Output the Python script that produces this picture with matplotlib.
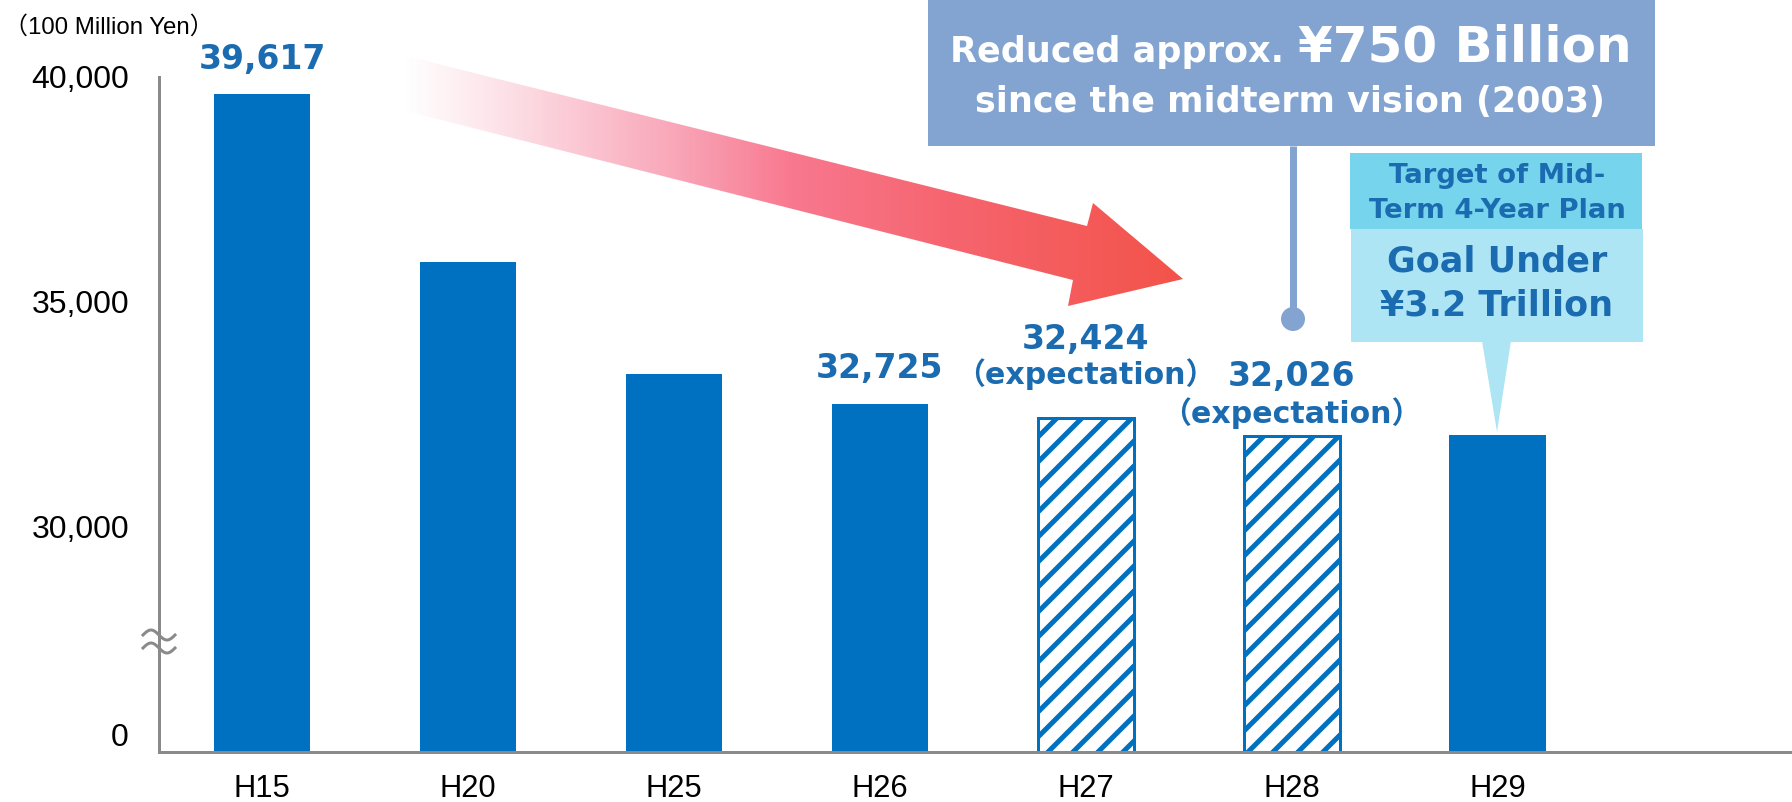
import numpy as np
import matplotlib.pyplot as plt
from matplotlib.patches import Rectangle, Polygon, Circle
from matplotlib.colors import LinearSegmentedColormap

W, H, DPI = 1792, 802, 150


def pt(px):
    # pixel size -> points at this dpi
    return px * 72 / DPI


# data (100 million yen)
years = ['H15', 'H20', 'H25', 'H26', 'H27', 'H28', 'H29']
budget = [39617, 35880, 33410, 32725, 32424, 32026, 32040]
status = ['actual', 'actual', 'actual', 'actual', 'expected', 'expected', 'target']
y_ticks = [25000, 30000, 35000, 40000]
y_ticklabels = ['', '30,000', '35,000', '40,000']

# where the value labels sit above the bar top (px)
num_offset = {'H15': 25, 'H26': 26, 'H27': 69, 'H28': 50}
exp_offset = {'H27': 34, 'H28': 13}

BLUE = '#0070C0'
LBL = '#1B6BB0'
AXIS = '#8A8A8A'
BOLD_FONT = ['DejaVu Sans', 'Noto Sans CJK JP']

plt.rcParams['font.family'] = ['Liberation Sans', 'Noto Sans CJK JP']
plt.rcParams['hatch.linewidth'] = pt(5)

fig = plt.figure(figsize=(W / DPI, H / DPI), dpi=DPI)
ax = fig.add_axes([159 / W, 1 - 752 / H, 1 - 159 / W, (752 - 77) / H])

x = np.arange(len(years))
for i, (v, s) in enumerate(zip(budget, status)):
    if s == 'expected':
        ax.bar(x[i], v, width=0.467, color='white', edgecolor=BLUE,
               hatch='//', linewidth=pt(3))
    else:
        ax.bar(x[i], v, width=0.467, color=BLUE, linewidth=0)

ax.set_xlim(-0.5, 7.43)
ax.set_ylim(25000, 40000)
ax.set_xticks(x, years)
ax.set_yticks(y_ticks, y_ticklabels)
ax.tick_params(axis='y', length=0, pad=pt(30), labelsize=pt(32))
ax.tick_params(axis='x', length=0, pad=pt(22), labelsize=pt(31))
for side in ['top', 'right']:
    ax.spines[side].set_visible(False)
for side in ['left', 'bottom']:
    ax.spines[side].set_color(AXIS)
    ax.spines[side].set_linewidth(pt(3))

# "0" label of the broken axis, sits a little above the baseline
ax.annotate('0', xy=(0, y_ticks[0]), xycoords=('axes fraction', 'data'),
            xytext=(-pt(30), pt(14)), textcoords='offset points',
            ha='right', va='center', fontsize=pt(32))

# value labels
for i, (yr, v) in enumerate(zip(years, budget)):
    if yr in num_offset:
        ax.annotate(f'{v:,}', xy=(x[i], v), xytext=(0, pt(num_offset[yr])),
                    textcoords='offset points', ha='center', va='baseline',
                    color=LBL, fontsize=pt(33), fontweight='bold', family=BOLD_FONT)
    if yr in exp_offset:
        ax.annotate('（expectation）', xy=(x[i], v), xytext=(0, pt(exp_offset[yr])),
                    textcoords='offset points', ha='center', va='baseline',
                    color=LBL, fontsize=pt(30), fontweight='bold', family=BOLD_FONT)

# overlay in pixel coordinates for the decorations
ov = fig.add_axes([0, 0, 1, 1])
ov.set_xlim(0, W)
ov.set_ylim(H, 0)
ov.axis('off')

ov.text(4, 27, '（100 Million Yen）', ha='left', va='center', fontsize=pt(24))

# axis break mark
t = np.linspace(0, 1, 60)
for yc in (635, 648):
    ov.plot(143 + 32 * t, yc - 5 * np.sin(2 * np.pi * t), color=AXIS, lw=pt(3))

# gradient arrow
arrow_pts = [(402, 55), (1087, 226), (1093, 203), (1183, 279),
             (1068, 306), (1073, 280), (402, 110)]
arrow = Polygon(arrow_pts, closed=True, facecolor='none', edgecolor='none')
ov.add_patch(arrow)
cmap = LinearSegmentedColormap.from_list('arrow', [
    (0.0, '#FFFFFF'), (0.12, '#FDE3E9'), (0.35, '#F9A6B8'),
    (0.5, '#F8788F'), (0.7, '#F6656F'), (1.0, '#F3534A')])
grad = ov.imshow(np.linspace(0, 1, 256).reshape(1, -1), cmap=cmap,
                 extent=(402, 1183, 306, 55), aspect='auto', interpolation='bilinear')
grad.set_clip_path(arrow)
ov.set_xlim(0, W)
ov.set_ylim(H, 0)

# reduction callout
BOX1 = '#83A4D1'
ov.add_patch(Rectangle((928, 0), 1655 - 928, 146, color=BOX1, lw=0))
ov.plot([1293, 1293], [146, 312], color=BOX1, lw=pt(7), solid_capstyle='butt')
ov.add_patch(Circle((1293, 319), 12, color=BOX1, lw=0))
ov.text(950, 62, 'Reduced approx.', ha='left', va='baseline', color='white',
        fontsize=pt(35), fontweight='bold', family=BOLD_FONT)
ov.text(1632, 62, '¥750 Billion', ha='right', va='baseline', color='white',
        fontsize=pt(50), fontweight='bold', family=BOLD_FONT)
ov.text(1290, 112, 'since the midterm vision (2003)', ha='center', va='baseline',
        color='white', fontsize=pt(35), fontweight='bold', family=BOLD_FONT)

# target callout
ov.add_patch(Rectangle((1350, 153), 292, 76, color='#76D4EC', lw=0))
ov.add_patch(Rectangle((1351, 229), 292, 113, color='#AEE5F5', lw=0))
ov.add_patch(Polygon([(1482, 341), (1511, 341), (1497, 432)], closed=True,
                     color='#AEE5F5', lw=0))
ov.text(1497, 183, 'Target of Mid-', ha='center', va='baseline', color=LBL,
        fontsize=pt(27.5), fontweight='bold', family=BOLD_FONT)
ov.text(1497, 218, 'Term 4-Year Plan', ha='center', va='baseline', color=LBL,
        fontsize=pt(27.5), fontweight='bold', family=BOLD_FONT)
ov.text(1497, 272, 'Goal Under', ha='center', va='baseline', color=LBL,
        fontsize=pt(35), fontweight='bold', family=BOLD_FONT)
ov.text(1497, 315, '¥3.2 Trillion', ha='center', va='baseline', color=LBL,
        fontsize=pt(35), fontweight='bold', family=BOLD_FONT)

fig.savefig('out.png', dpi=DPI)
